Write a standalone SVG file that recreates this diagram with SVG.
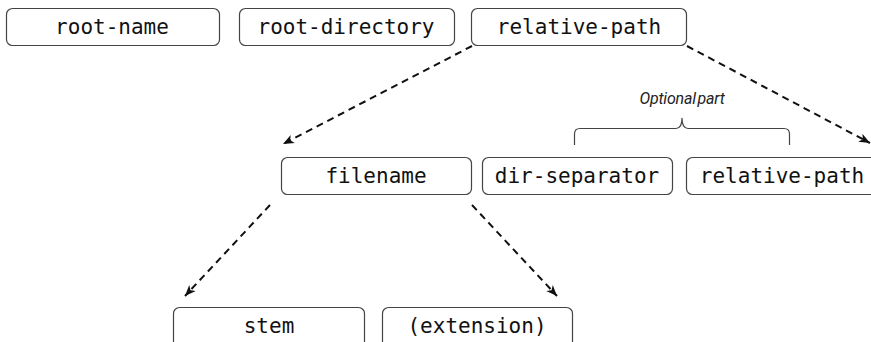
<svg xmlns="http://www.w3.org/2000/svg" width="871" height="342" viewBox="0 0 871 342">
<defs>
<style>
.box{fill:#fff;stroke:#444;stroke-width:1.2}
.lbl{font-family:"DejaVu Sans Mono","Liberation Mono",monospace;font-size:21px;fill:#111;text-anchor:middle}
.conn{fill:none;stroke:#111;stroke-width:2;stroke-dasharray:7,5}
.brace{fill:none;stroke:#444;stroke-width:1.2}
.note{font-family:Roboto,"Liberation Sans",sans-serif;font-style:italic;font-size:16px;fill:#222;text-anchor:middle;word-spacing:-2px;letter-spacing:-0.2px}
</style>
<marker id="ah" markerUnits="userSpaceOnUse" markerWidth="12" markerHeight="12" viewBox="0 0 12 12" refX="11" refY="6" orient="auto">
<path d="M0,1.5 L11,6 L0,10.5 L3,6 Z" fill="#111"/>
</marker>
</defs>
<rect width="871" height="342" fill="#fff"/>
<g id="connectors">
<line class="conn" x1="472" y1="46" x2="283" y2="144" marker-end="url(#ah)"/>
<line class="conn" x1="687" y1="46" x2="870" y2="143" marker-end="url(#ah)"/>
<line class="conn" x1="270" y1="205" x2="185" y2="296" marker-end="url(#ah)"/>
<line class="conn" x1="472" y1="205" x2="557" y2="296" marker-end="url(#ah)"/>
</g>
<g id="n-root-name"><rect class="box" x="6.5" y="8.5" width="213" height="37" rx="6"/><text class="lbl" x="112" y="34">root-name</text></g>
<g id="n-root-directory"><rect class="box" x="239.5" y="8.5" width="215" height="37" rx="6"/><text class="lbl" x="346" y="34">root-directory</text></g>
<g id="n-relative-path-top"><rect class="box" x="471.5" y="8.5" width="215" height="37" rx="6"/><text class="lbl" x="579" y="34">relative-path</text></g>
<g id="n-filename"><rect class="box" x="281.5" y="157.5" width="190" height="37" rx="6"/><text class="lbl" x="376" y="183">filename</text></g>
<g id="n-dir-separator"><rect class="box" x="482.5" y="157.5" width="190" height="37" rx="6"/><text class="lbl" x="577" y="183">dir-separator</text></g>
<g id="n-relative-path"><rect class="box" x="686.5" y="157.5" width="192" height="37" rx="6"/><text class="lbl" x="782" y="183">relative-path</text></g>
<g id="n-stem"><rect class="box" x="173.5" y="307.5" width="191" height="42" rx="6"/><text class="lbl" x="269" y="333">stem</text></g>
<g id="n-extension"><rect class="box" x="382.5" y="307.5" width="190" height="42" rx="6"/><text class="lbl" x="477" y="333">(extension)</text></g>
<g id="optional-part">
<path class="brace" d="M574.5,145 V134 Q574.5,128.5 580,128.5 H676 Q682,128.5 682,118 Q682,128.5 688,128.5 H784 Q789.5,128.5 789.5,134 V145"/>
<text class="note" x="682" y="104">Optional part</text>
</g>
</svg>
